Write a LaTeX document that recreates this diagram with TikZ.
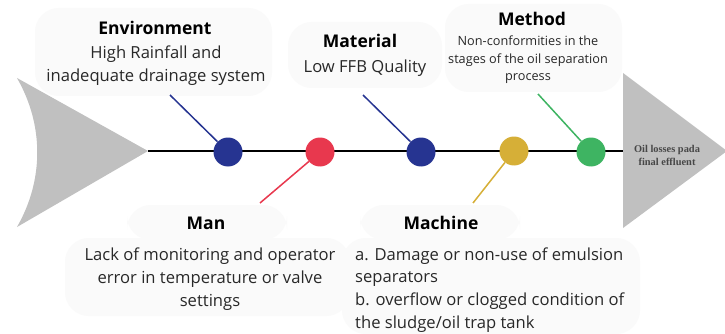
\documentclass[tikz,border=0pt]{standalone}
\usepackage{fontspec}
\setmainfont{Open Sans}
\newfontfamily\headfont{Liberation Serif}
\begin{document}
\definecolor{bonegray}{RGB}{192,192,192}
\definecolor{navy}{RGB}{38,52,145}
\definecolor{rosered}{RGB}{232,56,78}
\definecolor{mustard}{RGB}{214,175,55}
\definecolor{leafgreen}{RGB}{62,180,98}
\definecolor{inktext}{RGB}{40,40,40}
\begin{tikzpicture}[x=1pt,y=-1pt,
  bone/.style={fill=bonegray,draw=none},
  spine/.style={line width=2.6pt,black},
  cause/.style={circle,minimum size=29pt,inner sep=0pt,draw=none},
  rib/.style={line width=1.5pt},
  bubble/.style={fill=black!1.8,draw=none,rounded corners=24pt},
  title/.style={font=\fontsize{17.5}{20}\selectfont\bfseries,text=black,inner sep=0pt},
  body/.style={font=\fontsize{16.6}{22.8}\selectfont,text=inktext,inner sep=0pt},
  small/.style={font=\fontsize{12.7}{17.5}\selectfont,text=inktext,inner sep=0pt},
  effect/.style={font=\headfont\fontsize{10.4}{13}\selectfont\bfseries,text=black!72,inner sep=0pt,align=center}]
\useasboundingbox[fill=white] (0,0) rectangle (725,334);

% faint backdrops behind the text groups
\fill[bubble] (35,8) rectangle (272,96);
\fill[bubble] (288,22) rectangle (442,88);
\fill[bubble] (445,4) rectangle (622,92);
\fill[bubble] (127,205) rectangle (287,240);
\fill[bubble] (65,238) rectangle (350,316);
\fill[bubble] (360,205) rectangle (520,240);
\fill[bubble] (342,238) rectangle (640,334);

% tail and head of the fish
\fill[bone] (17,78) -- (148,151) -- (17,227) .. controls (44,180) and (44,125) .. cycle;
\fill[bone] (623,73) -- (727,151) -- (623,228) -- cycle;

\coordinate (tail) at (148,151);
\coordinate (head) at (623,151);
\draw[spine] (tail) -- (head);

% cause nodes on the spine
\node[cause,fill=navy]      (env) at (228,152) {};
\node[cause,fill=rosered]   (man) at (320,152) {};
\node[cause,fill=navy]      (mat) at (421,152) {};
\node[cause,fill=mustard]   (mac) at (514,151) {};
\node[cause,fill=leafgreen] (met) at (591,152) {};

% ribs
\coordinate (envtop) at (170,95);
\coordinate (manbot) at (260,203);
\coordinate (mattop) at (363,95);
\coordinate (macbot) at (473,203);
\coordinate (mettop) at (538,94);
\draw[rib,navy] (envtop) -- (env);
\draw[rib,rosered] (manbot) -- (man);
\draw[rib,navy] (mattop) -- (mat);
\draw[rib,mustard] (macbot) -- (mac);
\draw[rib,leafgreen] (mettop) -- (met);

% labels
\node[title] (envt) at (155,28) {Environment};
\node[body,align=center] (envb) at (156,66) {High Rainfall and\\inadequate drainage system};

\node[title] (matt) at (360,41) {Material};
\node[body] (matb) at (365,68) {Low FFB Quality};

\node[title] (mett) at (532,19) {Method};
\node[small,align=center] (metb) at (528,60) {Non-conformities in the\\stages of the oil separation\\process};

\node[title] (mant) at (206,223) {Man};
\node[body,align=center] (manb) at (210,279) {Lack of monitoring and operator\\error in temperature or valve\\settings};

\node[title] (mact) at (441,223) {Machine};
\node[body,align=left,anchor=west] (macb) at (355,290) {a. Damage or non-use of emulsion\\separators\\b. overflow or clogged condition of\\the sludge/oil trap tank};

\node[effect] (eff) at (667,155) {Oil losses pada\\final effluent};
\end{tikzpicture}
\end{document}
